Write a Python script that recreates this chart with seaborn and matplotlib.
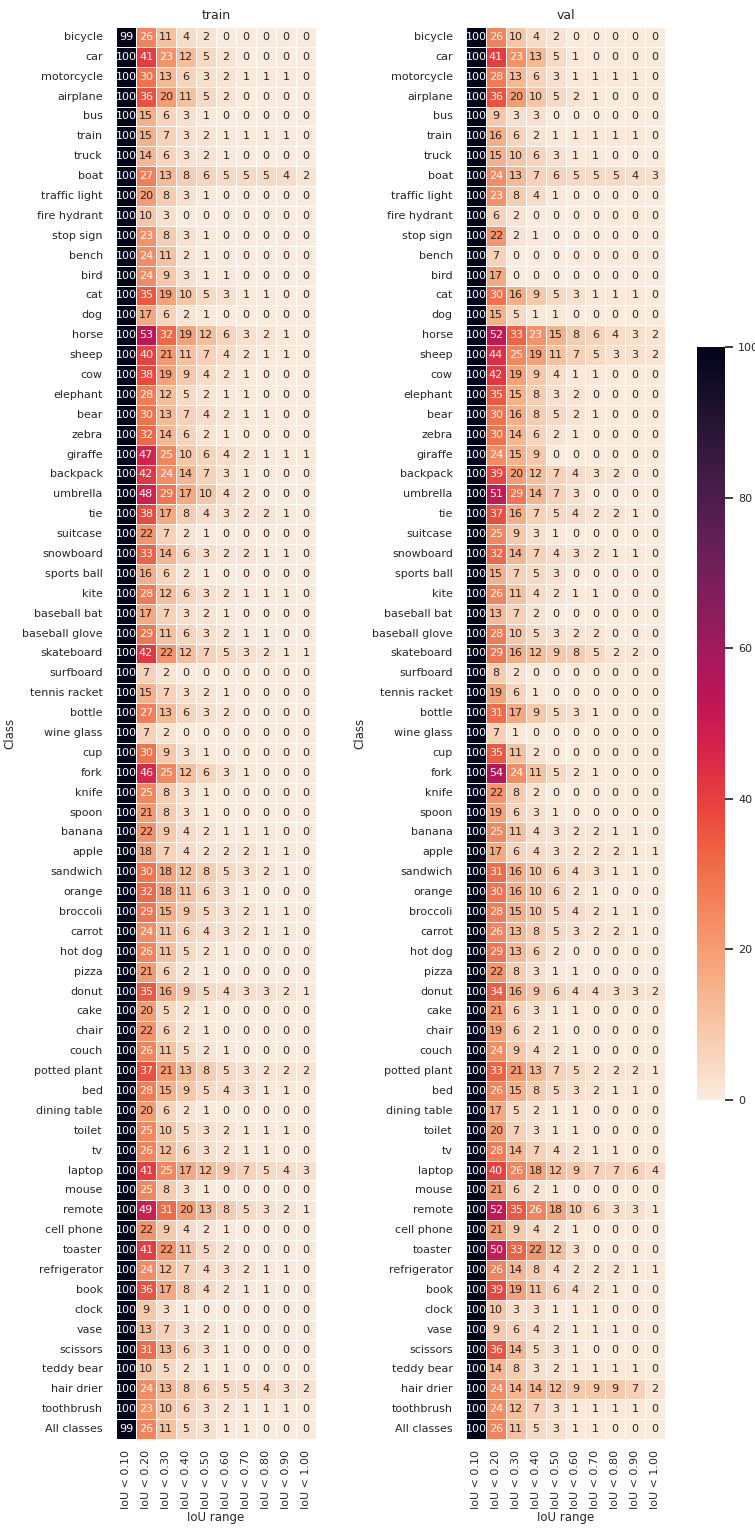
import numpy as np
import pandas as pd
import matplotlib
matplotlib.use("Agg")
import matplotlib.pyplot as plt
import seaborn as sns

sns.set_theme()

# =============================================================================
# DATA  (percent of boxes below each IoU threshold, per class)
# =============================================================================

CLASSES = [
    'bicycle', 'car', 'motorcycle', 'airplane', 'bus', 'train', 'truck', 'boat',
    'traffic light', 'fire hydrant', 'stop sign', 'bench', 'bird', 'cat', 'dog',
    'horse', 'sheep', 'cow', 'elephant', 'bear', 'zebra', 'giraffe', 'backpack',
    'umbrella', 'tie', 'suitcase', 'snowboard', 'sports ball', 'kite',
    'baseball bat', 'baseball glove', 'skateboard', 'surfboard', 'tennis racket',
    'bottle', 'wine glass', 'cup', 'fork', 'knife', 'spoon', 'banana', 'apple',
    'sandwich', 'orange', 'broccoli', 'carrot', 'hot dog', 'pizza', 'donut',
    'cake', 'chair', 'couch', 'potted plant', 'bed', 'dining table', 'toilet',
    'tv', 'laptop', 'mouse', 'remote', 'cell phone', 'toaster', 'refrigerator',
    'book', 'clock', 'vase', 'scissors', 'teddy bear', 'hair drier',
    'toothbrush', 'All classes',
]

IOU_LABELS = ['IoU < 0.10', 'IoU < 0.20', 'IoU < 0.30', 'IoU < 0.40', 'IoU < 0.50',
              'IoU < 0.60', 'IoU < 0.70', 'IoU < 0.80', 'IoU < 0.90', 'IoU < 1.00']

TRAIN = [
    [99, 26, 11, 4, 2, 0, 0, 0, 0, 0],
    [100, 41, 23, 12, 5, 2, 0, 0, 0, 0],
    [100, 30, 13, 6, 3, 2, 1, 1, 1, 0],
    [100, 36, 20, 11, 5, 2, 0, 0, 0, 0],
    [100, 15, 6, 3, 1, 0, 0, 0, 0, 0],
    [100, 15, 7, 3, 2, 1, 1, 1, 1, 0],
    [100, 14, 6, 3, 2, 1, 0, 0, 0, 0],
    [100, 27, 13, 8, 6, 5, 5, 5, 4, 2],
    [100, 20, 8, 3, 1, 0, 0, 0, 0, 0],
    [100, 10, 3, 0, 0, 0, 0, 0, 0, 0],
    [100, 23, 8, 3, 1, 0, 0, 0, 0, 0],
    [100, 24, 11, 2, 1, 0, 0, 0, 0, 0],
    [100, 24, 9, 3, 1, 1, 0, 0, 0, 0],
    [100, 35, 19, 10, 5, 3, 1, 1, 0, 0],
    [100, 17, 6, 2, 1, 0, 0, 0, 0, 0],
    [100, 53, 32, 19, 12, 6, 3, 2, 1, 0],
    [100, 40, 21, 11, 7, 4, 2, 1, 1, 0],
    [100, 38, 19, 9, 4, 2, 1, 0, 0, 0],
    [100, 28, 12, 5, 2, 1, 1, 0, 0, 0],
    [100, 30, 13, 7, 4, 2, 1, 1, 0, 0],
    [100, 32, 14, 6, 2, 1, 0, 0, 0, 0],
    [100, 47, 25, 10, 6, 4, 2, 1, 1, 1],
    [100, 42, 24, 14, 7, 3, 1, 0, 0, 0],
    [100, 48, 29, 17, 10, 4, 2, 0, 0, 0],
    [100, 38, 17, 8, 4, 3, 2, 2, 1, 0],
    [100, 22, 7, 2, 1, 0, 0, 0, 0, 0],
    [100, 33, 14, 6, 3, 2, 2, 1, 1, 0],
    [100, 16, 6, 2, 1, 0, 0, 0, 0, 0],
    [100, 28, 12, 6, 3, 2, 1, 1, 1, 0],
    [100, 17, 7, 3, 2, 1, 0, 0, 0, 0],
    [100, 29, 11, 6, 3, 2, 1, 1, 0, 0],
    [100, 42, 22, 12, 7, 5, 3, 2, 1, 1],
    [100, 7, 2, 0, 0, 0, 0, 0, 0, 0],
    [100, 15, 7, 3, 2, 1, 0, 0, 0, 0],
    [100, 27, 13, 6, 3, 2, 0, 0, 0, 0],
    [100, 7, 2, 0, 0, 0, 0, 0, 0, 0],
    [100, 30, 9, 3, 1, 0, 0, 0, 0, 0],
    [100, 46, 25, 12, 6, 3, 1, 0, 0, 0],
    [100, 25, 8, 3, 1, 0, 0, 0, 0, 0],
    [100, 21, 8, 3, 1, 0, 0, 0, 0, 0],
    [100, 22, 9, 4, 2, 1, 1, 1, 0, 0],
    [100, 18, 7, 4, 2, 2, 2, 1, 1, 0],
    [100, 30, 18, 12, 8, 5, 3, 2, 1, 0],
    [100, 32, 18, 11, 6, 3, 1, 0, 0, 0],
    [100, 29, 15, 9, 5, 3, 2, 1, 1, 0],
    [100, 24, 11, 6, 4, 3, 2, 1, 1, 0],
    [100, 26, 11, 5, 2, 1, 0, 0, 0, 0],
    [100, 21, 6, 2, 1, 0, 0, 0, 0, 0],
    [100, 35, 16, 9, 5, 4, 3, 3, 2, 1],
    [100, 20, 5, 2, 1, 0, 0, 0, 0, 0],
    [100, 22, 6, 2, 1, 0, 0, 0, 0, 0],
    [100, 26, 11, 5, 2, 1, 0, 0, 0, 0],
    [100, 37, 21, 13, 8, 5, 3, 2, 2, 2],
    [100, 28, 15, 9, 5, 4, 3, 1, 1, 0],
    [100, 20, 6, 2, 1, 0, 0, 0, 0, 0],
    [100, 25, 10, 5, 3, 2, 1, 1, 1, 0],
    [100, 26, 12, 6, 3, 2, 1, 1, 0, 0],
    [100, 41, 25, 17, 12, 9, 7, 5, 4, 3],
    [100, 25, 8, 3, 1, 0, 0, 0, 0, 0],
    [100, 49, 31, 20, 13, 8, 5, 3, 2, 1],
    [100, 22, 9, 4, 2, 1, 0, 0, 0, 0],
    [100, 41, 22, 11, 5, 2, 0, 0, 0, 0],
    [100, 24, 12, 7, 4, 3, 2, 1, 1, 0],
    [100, 36, 17, 8, 4, 2, 1, 1, 0, 0],
    [100, 9, 3, 1, 0, 0, 0, 0, 0, 0],
    [100, 13, 7, 3, 2, 1, 0, 0, 0, 0],
    [100, 31, 13, 6, 3, 1, 0, 0, 0, 0],
    [100, 10, 5, 2, 1, 1, 0, 0, 0, 0],
    [100, 24, 13, 8, 6, 5, 5, 4, 3, 2],
    [100, 23, 10, 6, 3, 2, 1, 1, 1, 0],
    [99, 26, 11, 5, 3, 1, 1, 0, 0, 0],
]

VAL = [
    [100, 26, 10, 4, 2, 0, 0, 0, 0, 0],
    [100, 41, 23, 13, 5, 1, 0, 0, 0, 0],
    [100, 28, 13, 6, 3, 1, 1, 1, 1, 0],
    [100, 36, 20, 10, 5, 2, 1, 0, 0, 0],
    [100, 9, 3, 3, 0, 0, 0, 0, 0, 0],
    [100, 16, 6, 2, 1, 1, 1, 1, 1, 0],
    [100, 15, 10, 6, 3, 1, 1, 0, 0, 0],
    [100, 24, 13, 7, 6, 5, 5, 5, 4, 3],
    [100, 23, 8, 4, 1, 0, 0, 0, 0, 0],
    [100, 6, 2, 0, 0, 0, 0, 0, 0, 0],
    [100, 22, 2, 1, 0, 0, 0, 0, 0, 0],
    [100, 7, 0, 0, 0, 0, 0, 0, 0, 0],
    [100, 17, 0, 0, 0, 0, 0, 0, 0, 0],
    [100, 30, 16, 9, 5, 3, 1, 1, 1, 0],
    [100, 15, 5, 1, 1, 0, 0, 0, 0, 0],
    [100, 52, 33, 23, 15, 8, 6, 4, 3, 2],
    [100, 44, 25, 19, 11, 7, 5, 3, 3, 2],
    [100, 42, 19, 9, 4, 1, 1, 0, 0, 0],
    [100, 35, 15, 8, 3, 2, 0, 0, 0, 0],
    [100, 30, 16, 8, 5, 2, 1, 0, 0, 0],
    [100, 30, 14, 6, 2, 1, 0, 0, 0, 0],
    [100, 24, 15, 9, 0, 0, 0, 0, 0, 0],
    [100, 39, 20, 12, 7, 4, 3, 2, 0, 0],
    [100, 51, 29, 14, 7, 3, 0, 0, 0, 0],
    [100, 37, 16, 7, 5, 4, 2, 2, 1, 0],
    [100, 25, 9, 3, 1, 0, 0, 0, 0, 0],
    [100, 32, 14, 7, 4, 3, 2, 1, 1, 0],
    [100, 15, 7, 5, 3, 0, 0, 0, 0, 0],
    [100, 26, 11, 4, 2, 1, 1, 0, 0, 0],
    [100, 13, 7, 2, 0, 0, 0, 0, 0, 0],
    [100, 28, 10, 5, 3, 2, 2, 0, 0, 0],
    [100, 29, 16, 12, 9, 8, 5, 2, 2, 0],
    [100, 8, 2, 0, 0, 0, 0, 0, 0, 0],
    [100, 19, 6, 1, 0, 0, 0, 0, 0, 0],
    [100, 31, 17, 9, 5, 3, 1, 0, 0, 0],
    [100, 7, 1, 0, 0, 0, 0, 0, 0, 0],
    [100, 35, 11, 2, 0, 0, 0, 0, 0, 0],
    [100, 54, 24, 11, 5, 2, 1, 0, 0, 0],
    [100, 22, 8, 2, 0, 0, 0, 0, 0, 0],
    [100, 19, 6, 3, 1, 0, 0, 0, 0, 0],
    [100, 25, 11, 4, 3, 2, 2, 1, 1, 0],
    [100, 17, 6, 4, 3, 2, 2, 2, 1, 1],
    [100, 31, 16, 10, 6, 4, 3, 1, 1, 0],
    [100, 30, 16, 10, 6, 2, 1, 0, 0, 0],
    [100, 28, 15, 10, 5, 4, 2, 1, 1, 0],
    [100, 26, 13, 8, 5, 3, 2, 2, 1, 0],
    [100, 29, 13, 6, 2, 0, 0, 0, 0, 0],
    [100, 22, 8, 3, 1, 1, 0, 0, 0, 0],
    [100, 34, 16, 9, 6, 4, 4, 3, 3, 2],
    [100, 21, 6, 3, 1, 1, 0, 0, 0, 0],
    [100, 19, 6, 2, 1, 0, 0, 0, 0, 0],
    [100, 24, 9, 4, 2, 1, 0, 0, 0, 0],
    [100, 33, 21, 13, 7, 5, 2, 2, 2, 1],
    [100, 26, 15, 8, 5, 3, 2, 1, 1, 0],
    [100, 17, 5, 2, 1, 1, 0, 0, 0, 0],
    [100, 20, 7, 3, 1, 1, 0, 0, 0, 0],
    [100, 28, 14, 7, 4, 2, 1, 1, 0, 0],
    [100, 40, 26, 18, 12, 9, 7, 7, 6, 4],
    [100, 21, 6, 2, 1, 0, 0, 0, 0, 0],
    [100, 52, 35, 26, 18, 10, 6, 3, 3, 1],
    [100, 21, 9, 4, 2, 1, 0, 0, 0, 0],
    [100, 50, 33, 22, 12, 3, 0, 0, 0, 0],
    [100, 26, 14, 8, 4, 2, 2, 2, 1, 1],
    [100, 39, 19, 11, 6, 4, 2, 1, 0, 0],
    [100, 10, 3, 3, 1, 1, 1, 0, 0, 0],
    [100, 9, 6, 4, 2, 1, 1, 1, 0, 0],
    [100, 36, 14, 5, 3, 1, 0, 0, 0, 0],
    [100, 14, 8, 3, 2, 1, 1, 1, 1, 0],
    [100, 24, 14, 14, 12, 9, 9, 9, 7, 2],
    [100, 24, 12, 7, 3, 1, 1, 1, 1, 0],
    [100, 26, 11, 5, 3, 1, 1, 0, 0, 0],
]

# =============================================================================
# PLOT
# =============================================================================

W, H = 755, 1528


def fig_rect(x0, y0, x1, y1):
    """Pixel box (top-left origin) -> figure fraction rect."""
    return [x0 / W, 1 - y1 / H, (x1 - x0) / W, (y1 - y0) / H]


fig = plt.figure(figsize=(W / 100, H / 100), dpi=100)
ax_train = fig.add_axes(fig_rect(116, 27, 316, 1439))
ax_val = fig.add_axes(fig_rect(466, 27, 665, 1439))
cax = fig.add_axes(fig_rect(697, 347, 725, 1100))

panels = [(ax_train, 'train', TRAIN, False), (ax_val, 'val', VAL, True)]

for ax, name, values, show_cbar in panels:
    df = pd.DataFrame(values, index=CLASSES, columns=IOU_LABELS)
    sns.heatmap(df, ax=ax, cmap='rocket_r', vmin=0, vmax=100,
                annot=True, fmt='d', annot_kws={'size': 8},
                linewidths=0.5, linecolor='white',
                xticklabels=True, yticklabels=True,
                cbar=show_cbar, cbar_ax=cax if show_cbar else None)
    ax.set_title(name, fontsize=9)
    ax.set_xlabel('IoU range', fontsize=8.5, labelpad=1)
    ax.set_ylabel('Class', fontsize=8.5)
    ax.tick_params(axis='both', labelsize=8)
    ax.tick_params(axis='x', rotation=90, pad=2)
    ax.tick_params(axis='y', rotation=0)

cax.tick_params(labelsize=8)

fig.savefig('out.png', dpi=100)
